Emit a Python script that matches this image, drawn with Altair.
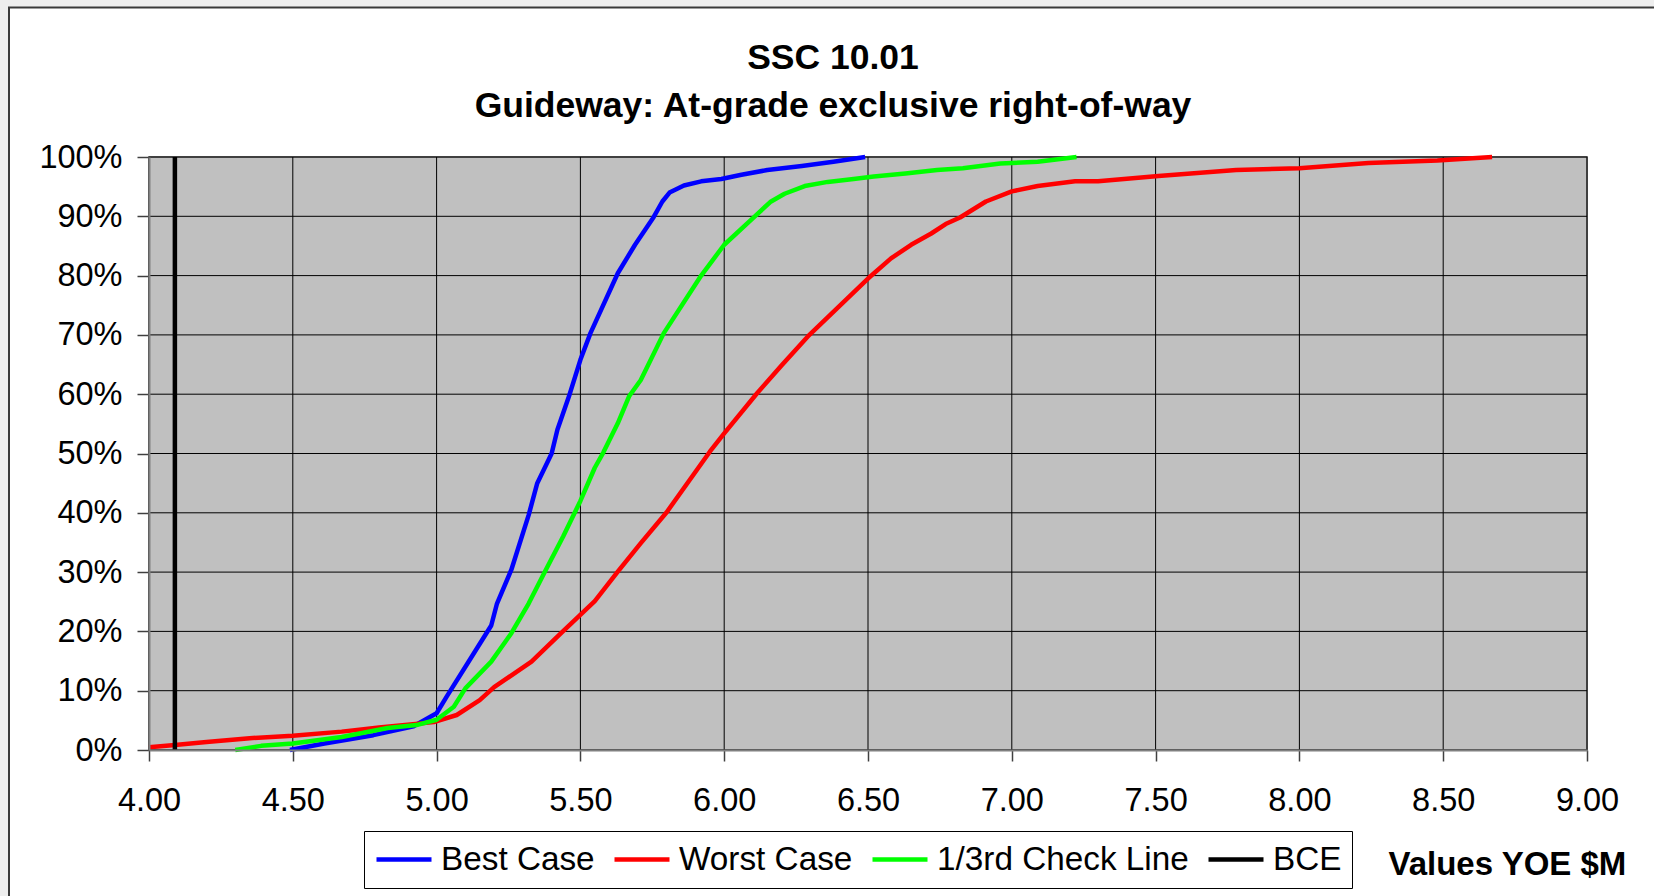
import altair as alt
import pandas as pd

FONT = "Liberation Sans"

x_ticks = [4.00, 4.50, 5.00, 5.50, 6.00, 6.50, 7.00, 7.50, 8.00, 8.50, 9.00]
y_ticks = [0, 10, 20, 30, 40, 50, 60, 70, 80, 90, 100]

series_names = ["Best Case", "Worst Case", "1/3rd Check Line", "BCE"]
series_colors = ["#0000ff", "#ff0000", "#00ff00", "#000000"]

best_x = [4.49, 4.61, 4.78, 4.92, 5.00, 5.035, 5.11, 5.19, 5.21, 5.26, 5.32, 5.35, 5.40, 5.42,
          5.46, 5.50, 5.535, 5.63, 5.69, 5.755, 5.785, 5.81, 5.86, 5.92, 5.99, 6.06, 6.15,
          6.27, 6.38, 6.49]
best_y = [0.0, 1.1, 2.5, 4.0, 6.2, 9.0, 14.8, 21.0, 24.7, 30.4, 39.6, 45.0, 50.0, 54.0,
          59.6, 65.8, 70.3, 80.4, 85.2, 89.9, 92.5, 94.0, 95.2, 95.9, 96.3, 97.0, 97.8,
          98.5, 99.2, 100.0]

worst_x = [4.00, 4.09, 4.20, 4.35, 4.50, 4.67, 4.80, 4.99, 5.07, 5.15, 5.20, 5.33, 5.43,
           5.55, 5.63, 5.71, 5.80, 5.95, 6.00, 6.115, 6.20, 6.29, 6.50, 6.58, 6.65, 6.72,
           6.77, 6.82, 6.91, 7.00, 7.09, 7.22, 7.30, 7.51, 7.78, 8.00, 8.24, 8.48, 8.67]
worst_y = [0.45, 0.85, 1.35, 2.0, 2.4, 3.1, 3.8, 4.7, 5.9, 8.4, 10.6, 14.9, 19.6,
           25.1, 30.1, 34.9, 40.1, 50.3, 53.4, 60.2, 64.9, 69.7, 79.5, 82.9, 85.2, 87.1,
           88.7, 89.8, 92.5, 94.2, 95.1, 95.9, 95.9, 96.8, 97.8, 98.1, 99.0, 99.4, 100.0]

check_x = [4.30, 4.39, 4.50, 4.67, 4.83, 4.93, 5.00, 5.06, 5.10, 5.19, 5.26, 5.32, 5.38,
           5.44, 5.50, 5.55, 5.58, 5.63, 5.67, 5.71, 5.79, 5.92, 6.00, 6.10, 6.16, 6.21,
           6.28, 6.36, 6.45, 6.52, 6.63, 6.74, 6.83, 6.96, 7.09, 7.225]
check_y = [0.0, 0.7, 1.1, 2.2, 3.7, 4.2, 5.1, 7.3, 10.4, 14.9, 19.7, 24.7, 30.4,
           36.0, 42.0, 47.6, 50.2, 55.1, 59.7, 62.4, 70.3, 80.0, 85.2, 89.7, 92.4, 93.8,
           95.1, 95.8, 96.3, 96.7, 97.2, 97.8, 98.1, 98.9, 99.2, 100.0]

bce_x = [4.09, 4.09]
bce_y = [0, 100]

rows = []
for name, xs, ys in [("Best Case", best_x, best_y),
                     ("Worst Case", worst_x, worst_y),
                     ("1/3rd Check Line", check_x, check_y),
                     ("BCE", bce_x, bce_y)]:
    for i, (xv, yv) in enumerate(zip(xs, ys)):
        rows.append({"series": name, "value": xv, "pct": yv, "idx": i})
df = pd.DataFrame(rows)

xscale = alt.Scale(domain=[x_ticks[0], x_ticks[-1]], nice=False, zero=False)
yscale = alt.Scale(domain=[y_ticks[0], y_ticks[-1]], nice=False)

x_axis = alt.Axis(
    values=x_ticks, format=".2f", grid=False, labelFlush=False,
    tickSize=11, tickColor="#404040", tickWidth=1.5,
    domainColor="#808080", domainWidth=2,
    labelFont=FONT, labelFontSize=32.5, labelColor="black", labelPadding=23,
    title="Values YOE $M", titleFont=FONT, titleFontSize=33, titleFontWeight="bold",
    titleColor="black", titleX=1239, titleY=124, titleAlign="left",
    titleBaseline="alphabetic", zindex=1,
)
y_axis = alt.Axis(
    values=y_ticks, labelExpr="datum.value + '%'", grid=False,
    tickSize=12, tickColor="#404040", tickWidth=1.5,
    domainColor="#808080", domainWidth=2,
    labelFont=FONT, labelFontSize=32.5, labelColor="black", labelPadding=15,
    title=None, zindex=1,
)

legend = alt.Legend(
    orient="none", legendX=215, legendY=674, direction="horizontal", title=None,
    symbolType="stroke", symbolSize=3025, symbolStrokeWidth=4.5, clipHeight=37,
    labelFont=FONT, labelFontSize=33.3, labelColor="black", labelOffset=7,
    labelLimit=500, columnPadding=17, padding=10,
    strokeColor="#000000", fillColor="white",
)

frame = alt.Chart(pd.DataFrame({"k": [0]})).mark_rect(
    fill="white", stroke="#3a3a3a", strokeWidth=2
).encode(
    x=alt.value(-140), x2=alt.value(1700), y=alt.value(-149.5), y2=alt.value(1000)
)

plot_bg = alt.Chart(pd.DataFrame({
    "x0": [x_ticks[0]], "x1": [x_ticks[-1]], "y0": [y_ticks[0]], "y1": [y_ticks[-1]]
})).mark_rect(fill="#c0c0c0", stroke="#808080", strokeWidth=2).encode(
    x=alt.X("x0:Q", scale=xscale, axis=x_axis), x2="x1",
    y=alt.Y("y0:Q", scale=yscale, axis=y_axis), y2="y1",
)

vgrid = alt.Chart(pd.DataFrame({"gx": x_ticks})).mark_rule(
    color="#000000", strokeWidth=1
).encode(x=alt.X("gx:Q", scale=xscale, axis=x_axis))

hgrid = alt.Chart(pd.DataFrame({"gy": y_ticks})).mark_rule(
    color="#000000", strokeWidth=1
).encode(y=alt.Y("gy:Q", scale=yscale, axis=y_axis))

lines = alt.Chart(df).mark_line(strokeWidth=4.5, strokeJoin="round").encode(
    x=alt.X("value:Q", scale=xscale, axis=x_axis),
    y=alt.Y("pct:Q", scale=yscale, axis=y_axis),
    color=alt.Color("series:N", scale=alt.Scale(domain=series_names, range=series_colors),
                    legend=legend),
    order="idx:Q",
)

chart = alt.layer(frame, plot_bg, vgrid, hgrid, lines).properties(
    width=1438, height=593,
    title=alt.TitleParams(
        text=["SSC 10.01", "Guideway: At-grade exclusive right-of-way"],
        font=FONT, fontSize=35.5, fontWeight="bold", color="black",
        anchor="middle", frame="group", dx=-35, offset=-118, lineHeight=48.5,
    ),
    autosize=alt.AutoSizeParams(type="none"),
    padding={"left": 149, "top": 157, "right": 67, "bottom": 146},
    background="#eeeeee",
).configure_view(strokeWidth=0)

chart.save("out.html", embed_options={"renderer": "svg", "actions": False})
